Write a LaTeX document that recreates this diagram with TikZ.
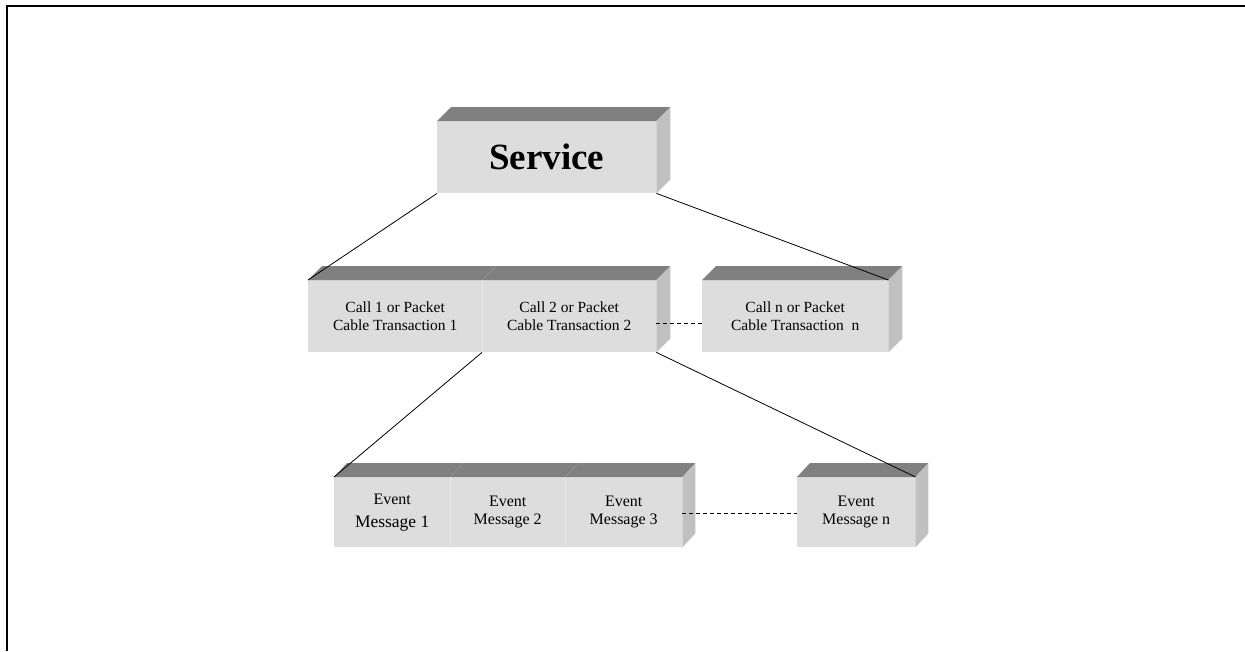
\documentclass[tikz,border=0pt]{standalone}
\usepackage{fontspec}
\setmainfont{Liberation Serif}
\definecolor{frontgray}{HTML}{DDDDDD}
\definecolor{topgray}{HTML}{808080}
\definecolor{sidegray}{HTML}{C0C0C0}
\definecolor{divgray}{HTML}{E8E8E8}
\definecolor{divtop}{HTML}{969696}
\begin{document}
\begin{tikzpicture}[x=1pt,y=-1pt,
  front/.style={fill=frontgray, draw=none, inner sep=0pt, anchor=north west, align=center,
    font=\fontsize{15.5}{18}\selectfont},
  topface/.style={fill=topgray, draw=none},
  sideface/.style={fill=sidegray, draw=none},
  divider/.style={draw=divgray, line width=0.5pt},
  topdivider/.style={draw=divtop, line width=0.5pt},
  link/.style={draw=black, line width=0.8pt},
  dlink/.style={draw=black, line width=0.8pt, dash pattern=on 4pt off 3pt}]
\useasboundingbox (0,0) rectangle (1245,651);
% frame
\draw[line width=2.4pt] (7,651) -- (7,6) -- (1246,6);
% Service
\node[front, minimum width=219pt, minimum height=72pt, font=\fontsize{37}{40}\selectfont\bfseries] (svc) at (437,121) {Service};
\fill[topface] (svc.north west) -- ++(14,-14) -- ([shift={(14,-14)}]svc.north east) -- (svc.north east) -- cycle;
\fill[sideface] (svc.north east) -- ++(14,-14) -- ([shift={(14,-14)}]svc.south east) -- (svc.south east) -- cycle;
% Calls
\node[front, minimum width=174pt, minimum height=72pt] (c1) at (308,280) {Call 1 or Packet\\Cable Transaction 1};
\node[front, minimum width=174pt, minimum height=72pt] (c2) at (482,280) {Call 2 or Packet\\Cable Transaction 2};
\node[front, minimum width=186pt, minimum height=72pt] (cn) at (702,280) {Call n or Packet\\Cable Transaction \ n};
\fill[topface] (c1.north west) -- ++(14,-14) -- ([shift={(14,-14)}]c2.north east) -- (c2.north east) -- cycle;
\fill[sideface] (c2.north east) -- ++(14,-14) -- ([shift={(14,-14)}]c2.south east) -- (c2.south east) -- cycle;
\draw[divider] (c1.north east) -- (c1.south east);
\draw[topdivider] (c1.north east) -- ++(14,-14);
\fill[topface] (cn.north west) -- ++(14,-14) -- ([shift={(14,-14)}]cn.north east) -- (cn.north east) -- cycle;
\fill[sideface] (cn.north east) -- ++(14,-14) -- ([shift={(14,-14)}]cn.south east) -- (cn.south east) -- cycle;
% Events
\node[front, minimum width=116pt, minimum height=70pt, font=\fontsize{16}{20}\selectfont] (e1) at (334,477) {Event\\[3pt]{\fontsize{17.5}{20}\selectfont Message 1}};
\node[front, minimum width=115pt, minimum height=70pt, font=\fontsize{16}{18}\selectfont] (e2) at (450,477) {Event\\Message 2};
\node[front, minimum width=117pt, minimum height=70pt, font=\fontsize{16}{18}\selectfont] (e3) at (565,477) {Event\\Message 3};
\node[front, minimum width=118pt, minimum height=70pt, font=\fontsize{16}{18}\selectfont] (en) at (797,477) {Event\\Message n};
\fill[topface] (e1.north west) -- ++(13,-14) -- ([shift={(13,-14)}]e3.north east) -- (e3.north east) -- cycle;
\fill[sideface] (e3.north east) -- ++(13,-14) -- ([shift={(13,-14)}]e3.south east) -- (e3.south east) -- cycle;
\draw[divider] (e1.north east) -- (e1.south east);
\draw[divider] (e2.north east) -- (e2.south east);
\draw[topdivider] (e1.north east) -- ++(13,-14);
\draw[topdivider] (e2.north east) -- ++(13,-14);
\fill[topface] (en.north west) -- ++(13,-14) -- ([shift={(13,-14)}]en.north east) -- (en.north east) -- cycle;
\fill[sideface] (en.north east) -- ++(13,-14) -- ([shift={(13,-14)}]en.south east) -- (en.south east) -- cycle;
% connectors
\draw[link] (svc.south west) -- (c1.north west);
\draw[link] (svc.south east) -- (cn.north east);
\draw[link] (c2.south west) -- (e1.north west);
\draw[link] (c2.south east) -- (en.north east);
\draw[dlink] ([yshift=-7pt]c2.east) -- ([yshift=-7pt]cn.west);
\draw[dlink] ([yshift=-1pt]e3.east) -- ([yshift=-1pt]en.west);
\end{tikzpicture}
\end{document}
